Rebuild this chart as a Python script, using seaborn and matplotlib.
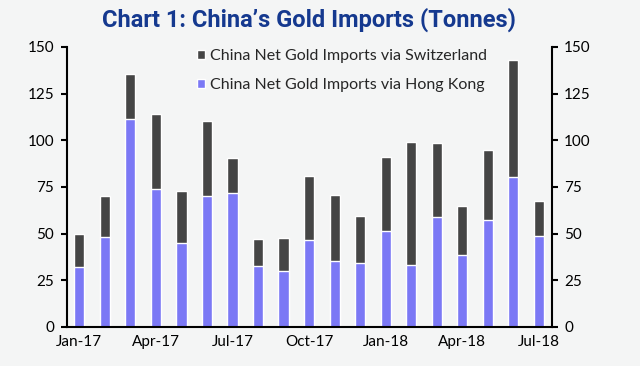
import matplotlib
matplotlib.use("Agg")
import matplotlib.pyplot as plt
from matplotlib.patches import Patch
import seaborn as sns
import pandas as pd
import numpy as np

months = ["Jan-17", "Feb-17", "Mar-17", "Apr-17", "May-17", "Jun-17", "Jul-17",
          "Aug-17", "Sep-17", "Oct-17", "Nov-17", "Dec-17", "Jan-18", "Feb-18",
          "Mar-18", "Apr-18", "May-18", "Jun-18", "Jul-18"]
hong_kong = [32, 48, 111.5, 74, 45, 70, 71.5, 32.5, 30, 46.5, 35.5, 34, 51.5, 33,
             59, 38.5, 57.5, 80.5, 48.5]
switzerland = [17.5, 22, 24, 40, 28, 40.5, 19, 14.5, 17.5, 34.5, 35, 25.5, 39.5, 66,
               39.5, 26.5, 37.5, 62.5, 19]
tick_labels = ["Jan-17", "Apr-17", "Jul-17", "Oct-17", "Jan-18", "Apr-18", "Jul-18"]
yticks = [0, 25, 50, 75, 100, 125, 150]

df = pd.DataFrame({"month": months, "hk": hong_kong, "ch": switzerland})
df["total"] = df["hk"] + df["ch"]

sns.set_theme(style="white")
bg = "#f4f5f5"
plt.rcParams["font.family"] = ["Lato", "DejaVu Sans"]

fig = plt.figure(figsize=(6.4, 3.66), dpi=100, facecolor=bg)
ax = fig.add_axes([0.104, 0.107, 0.758, 0.765])
ax.set_facecolor(bg)

dark = "#454545"
purple = "#7b78f5"
sns.barplot(data=df, x="month", y="total", color=dark, width=0.4, ax=ax,
            saturation=1, order=months)
sns.barplot(data=df, x="month", y="hk", color=purple, width=0.4, ax=ax,
            saturation=1, order=months)

ax.set_xlim(-0.5, len(months) - 0.5)
ax.set_ylim(0, 150)
ax.set_yticks(yticks)
ax.set_yticklabels([str(v) for v in yticks])
ax.set_xlabel("")
ax.set_ylabel("")

pos = [months.index(m) for m in tick_labels]
ax.set_xticks(pos)
ax.set_xticklabels(tick_labels)
ax.set_xticks([p - 0.5 for p in pos], minor=True)
ax.tick_params(axis="x", which="major", length=0, pad=6, labelsize=11, colors="black")
ax.tick_params(axis="x", which="minor", length=4, width=1.5, direction="out", color="black")
ax.tick_params(axis="y", which="major", length=4, width=1.5, direction="out",
               left=True, right=True, labelleft=True, labelright=True,
               labelsize=11, colors="black", pad=5)

for s in ["left", "right", "bottom"]:
    ax.spines[s].set_visible(True)
    ax.spines[s].set_color("black")
    ax.spines[s].set_linewidth(1.5)
ax.spines["top"].set_visible(False)

handles = [Patch(facecolor=dark, label="China Net Gold Imports via Switzerland"),
           Patch(facecolor=purple, label="China Net Gold Imports via Hong Kong")]
ax.legend(handles=handles, loc="upper left", bbox_to_anchor=(0.255, 1.015), frameon=False,
          fontsize=11.5, handlelength=0.55, handleheight=0.55, handletextpad=0.3,
          labelspacing=0.95, borderaxespad=0)

fig.text(0.483, 0.945, "Chart 1: China\u2019s Gold Imports (Tonnes)",
         ha="center", va="center", fontsize=17, fontweight="bold",
         color="#15398f", family=["Roboto", "DejaVu Sans"], fontstretch="condensed")

fig.savefig("out.png", dpi=100, facecolor=bg)
